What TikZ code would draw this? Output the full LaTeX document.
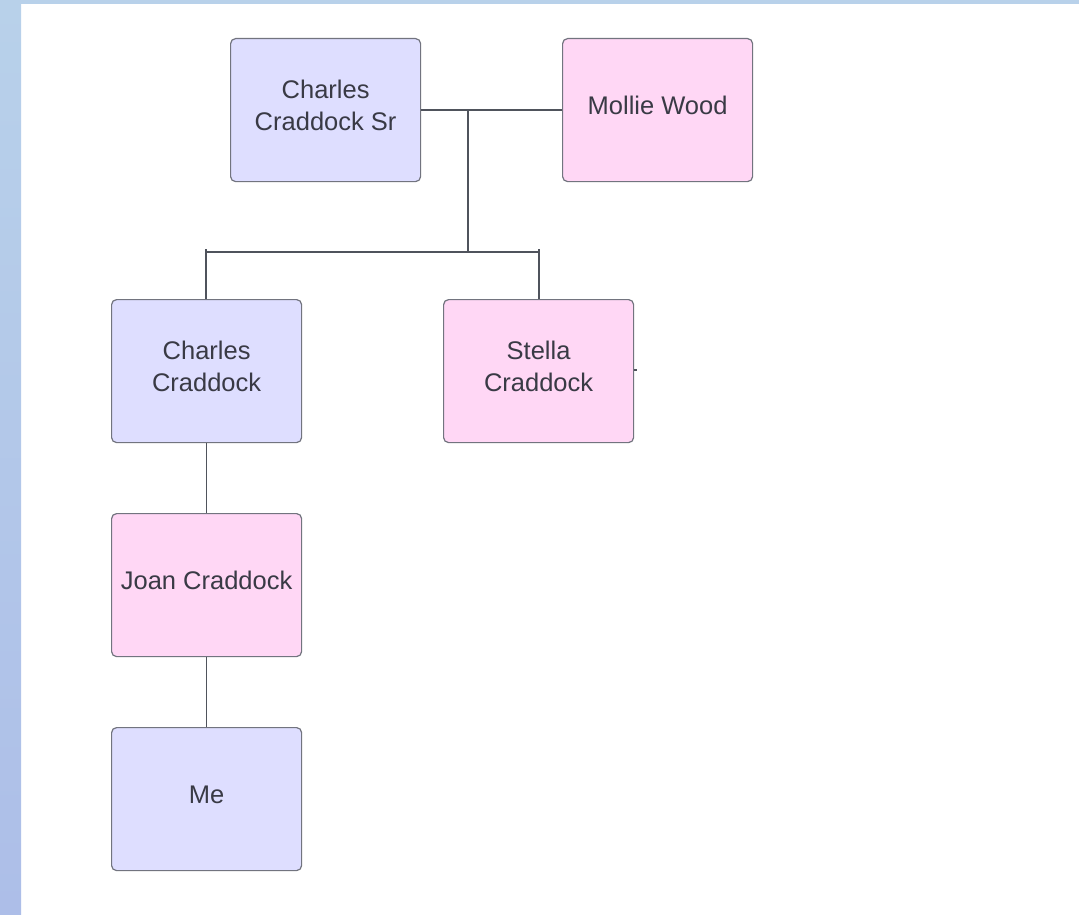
\documentclass[tikz,border=0pt]{standalone}
\usepackage{fontspec}
\setmainfont{Liberation Sans}
\begin{document}
\begin{tikzpicture}[x=1pt,y=-1pt,
  person/.style={draw=boxline, line width=1.2pt, rounded corners=5pt,
    minimum width=190pt, minimum height=143pt, anchor=north west,
    align=center, text=txt, inner sep=2pt, text depth=9pt,
    font=\fontsize{25.5}{32}\selectfont},
  male/.style={person, fill=malefill},
  female/.style={person, fill=femfill},
  link/.style={draw=linkcol, line width=1.2pt}]
\definecolor{malefill}{HTML}{DEDEFF}
\definecolor{femfill}{HTML}{FFD7F5}
\definecolor{boxline}{HTML}{72747F}
\definecolor{txt}{HTML}{393A45}
\definecolor{linkcol}{HTML}{4F535C}
\definecolor{edgetop}{HTML}{B8D1EA}
\definecolor{edgebot}{HTML}{ADBEE8}
\useasboundingbox (0,0) rectangle (1079,915);
% page frame
\fill[white] (0,0) rectangle (1079,915);
\shade[top color=edgetop, bottom color=edgebot] (0,0) rectangle (21,915);
\fill[edgetop] (0,0) rectangle (1079,4);
% people
\node[male]   (sr)     at (230,38)  {Charles\\Craddock Sr};
\node[female] (mollie) at (562,38)  {Mollie Wood};
\node[male]   (charles) at (111,299) {Charles\\Craddock};
\node[female] (stella) at (443,299) {Stella\\Craddock};
\node[female] (joan)   at (111,513) {Joan Craddock};
\node[male]   (me)     at (111,727) {Me};
% family links
\coordinate (m) at (468,110);
\coordinate (bar) at (468,252);
\coordinate (bl) at (206,252);
\coordinate (br) at (539,252);
\draw[link] (sr.east |- m) -- (mollie.west |- m);
\draw[link] (m) -- (bar);
\draw[link] (bl) ++(0,-3) -- (bl) -- (br) -- ++(0,-3);
\draw[link] (bl) -- (bl |- charles.north);
\draw[link] (br) -- (br |- stella.north);
\draw[link] (charles.south) -- (joan.north);
\draw[link] (joan.south) -- (me.north);
\coordinate (stub) at (637,370);
\draw[link] (stella.east |- stub) -- (stub);
\end{tikzpicture}
\end{document}
